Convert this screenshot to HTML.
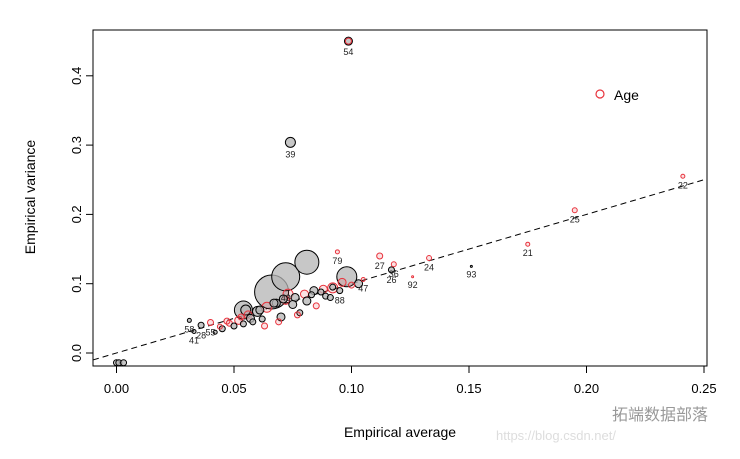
<!DOCTYPE html>
<html><head><meta charset="utf-8"><style>
body{margin:0;background:#fff;width:740px;height:454px;overflow:hidden}
svg text{font-family:"Liberation Sans","Noto Sans CJK SC",sans-serif}
</style></head><body>
<svg width="740" height="454">
<g id="plot"></g>
<text x="400" y="437" font-size="14" text-anchor="middle">Empirical average</text>
<text transform="translate(35,197) rotate(-90)" font-size="14" text-anchor="middle">Empirical variance</text>
<g>
<circle cx="600" cy="94" r="4" fill="none" stroke="#e8323c" stroke-width="1.2"/>
<text x="614" y="100" font-size="14">Age</text>
</g>
<text x="496" y="440" font-size="13" fill="#ddd">https://blog.csdn.net/</text>
<text x="612" y="420" font-size="16" fill="#999">拓端数据部落</text>
</svg>
<script>
const xTicks=[0.00,0.05,0.10,0.15,0.20,0.25];
const yTicks=[0.0,0.1,0.2,0.3,0.4];
const means=[0.0987,0.074,0.241,0.195,0.175,0.151,0.126,0.133,0.112,0.094,0.118,0.117,0.105,0.103,0.098,0.081,0.096,0.072,0.066,0.054,0.092,0.055,0.031,0.036,0.040,0.044,0.048,0.052,0.056,0.060,0.064,0.068,0.072,0.076,0.080,0.084,0.088,0.092,0.058,0.062,0.070,0.078,0.045,0.050,0.054,0.073,0.081,0.089,0.095,0.100,0.033,0.042,0.057,0.061,0.067,0.071,0.075,0.083,0.087,0.091,0.063,0.069,0.077,0.085,0.053,0.047,0.0,0.001,0.003];
const vars=[0.450,0.304,0.255,0.206,0.157,0.125,0.110,0.137,0.140,0.146,0.128,0.120,0.106,0.100,0.110,0.131,0.102,0.110,0.088,0.062,0.094,0.062,0.047,0.040,0.044,0.038,0.043,0.047,0.055,0.060,0.066,0.072,0.076,0.080,0.085,0.090,0.092,0.095,0.045,0.049,0.052,0.058,0.035,0.039,0.042,0.085,0.075,0.082,0.090,0.098,0.031,0.030,0.050,0.062,0.072,0.078,0.070,0.084,0.088,0.080,0.039,0.045,0.055,0.068,0.052,0.046,-0.014,-0.014,-0.014];
const sizes=[4,5,2,2.5,2,1,1,2.5,3,2,2.5,3,2,4,10,12,4,14,17,9,5,5,2,3,3,2.5,3,4,4,5,5,4,4,4,4,4,4,3,3,3,4,3,3,3,3,5,4,3,3,3,2,2,4,4,4,4,4,3,3,3,3,3,3,3,3,3,3,3,3];
const groups=[2,1,0,0,0,1,0,0,0,0,0,1,0,1,1,1,0,1,1,1,0,1,1,1,0,0,0,0,0,1,0,1,0,1,0,1,0,1,1,1,1,1,1,1,1,0,1,1,1,0,1,1,1,1,1,1,1,1,1,1,0,0,0,0,0,0,1,1,1];
const labels=["54","39","22","25","21","93","92","24","27","79","36","26","47","","","","","43","","","","","58","28","55","","","","","","","","","","","","","","","","","","","","","","","","88","","41","","","","","","","","","","","","","","","","","",""];
const X=v=>116.5+v*2350, Y=v=>353-v*693;
const L=93,R=707,T=30,B=366;
const g=document.getElementById('plot');
const NS='http://www.w3.org/2000/svg';
function mk(t,a){const e=document.createElementNS(NS,t);for(const k in a)e.setAttribute(k,a[k]);g.appendChild(e);return e;}
const frame=mk('rect',{x:L,y:T,width:R-L,height:B-T,fill:'none',stroke:'#000','stroke-width':1});


xTicks.forEach(t=>{
 const l=mk('line',{x1:X(t),x2:X(t),y1:B,y2:B+7,stroke:'#000'});
 
 
 const s=mk('text',{x:X(t),y:B+27,'font-size':13,'text-anchor':'middle'});s.textContent=t.toFixed(2);
 
 
});
yTicks.forEach(t=>{
 const l=mk('line',{x1:L-7,x2:L,y1:Y(t),y2:Y(t),stroke:'#000'});
 
 
 const s=mk('text',{x:0,y:0,'font-size':13,'text-anchor':'middle',transform:`translate(${L-12},${Y(t)}) rotate(-90)`});s.textContent=t.toFixed(1);
 
 
});
const ref=mk('line',{x1:L,y1:Y((L-116.5)/2350),x2:R,y2:Y((R-116.5)/2350),stroke:'#000','stroke-dasharray':'6,4','stroke-width':1});


const order=means.map((m,i)=>i).sort((a,b)=>sizes[b]-sizes[a]);
order.forEach(i=>{
 const gr=groups[i];
 const c=mk('circle',{cx:X(means[i]),cy:Y(vars[i]),r:sizes[i],
  fill:gr===0?'rgba(230,60,70,0.15)':'rgba(180,180,180,0.75)',
  stroke:gr===0?'#e8323c':'#000','stroke-width':1});
 
 
 if(gr===2){const c2=mk('circle',{cx:X(means[i]),cy:Y(vars[i]),r:sizes[i]-1,fill:'none',stroke:'#e8323c','stroke-width':1});
  
  }
});
labels.forEach((lb,i)=>{ if(!lb) return;
 const s=mk('text',{x:X(means[i]),y:Y(vars[i])+sizes[i]+10,'font-size':9,'text-anchor':'middle',fill:'#222'});s.textContent=lb;
 
 
});
</script>
</body></html>
